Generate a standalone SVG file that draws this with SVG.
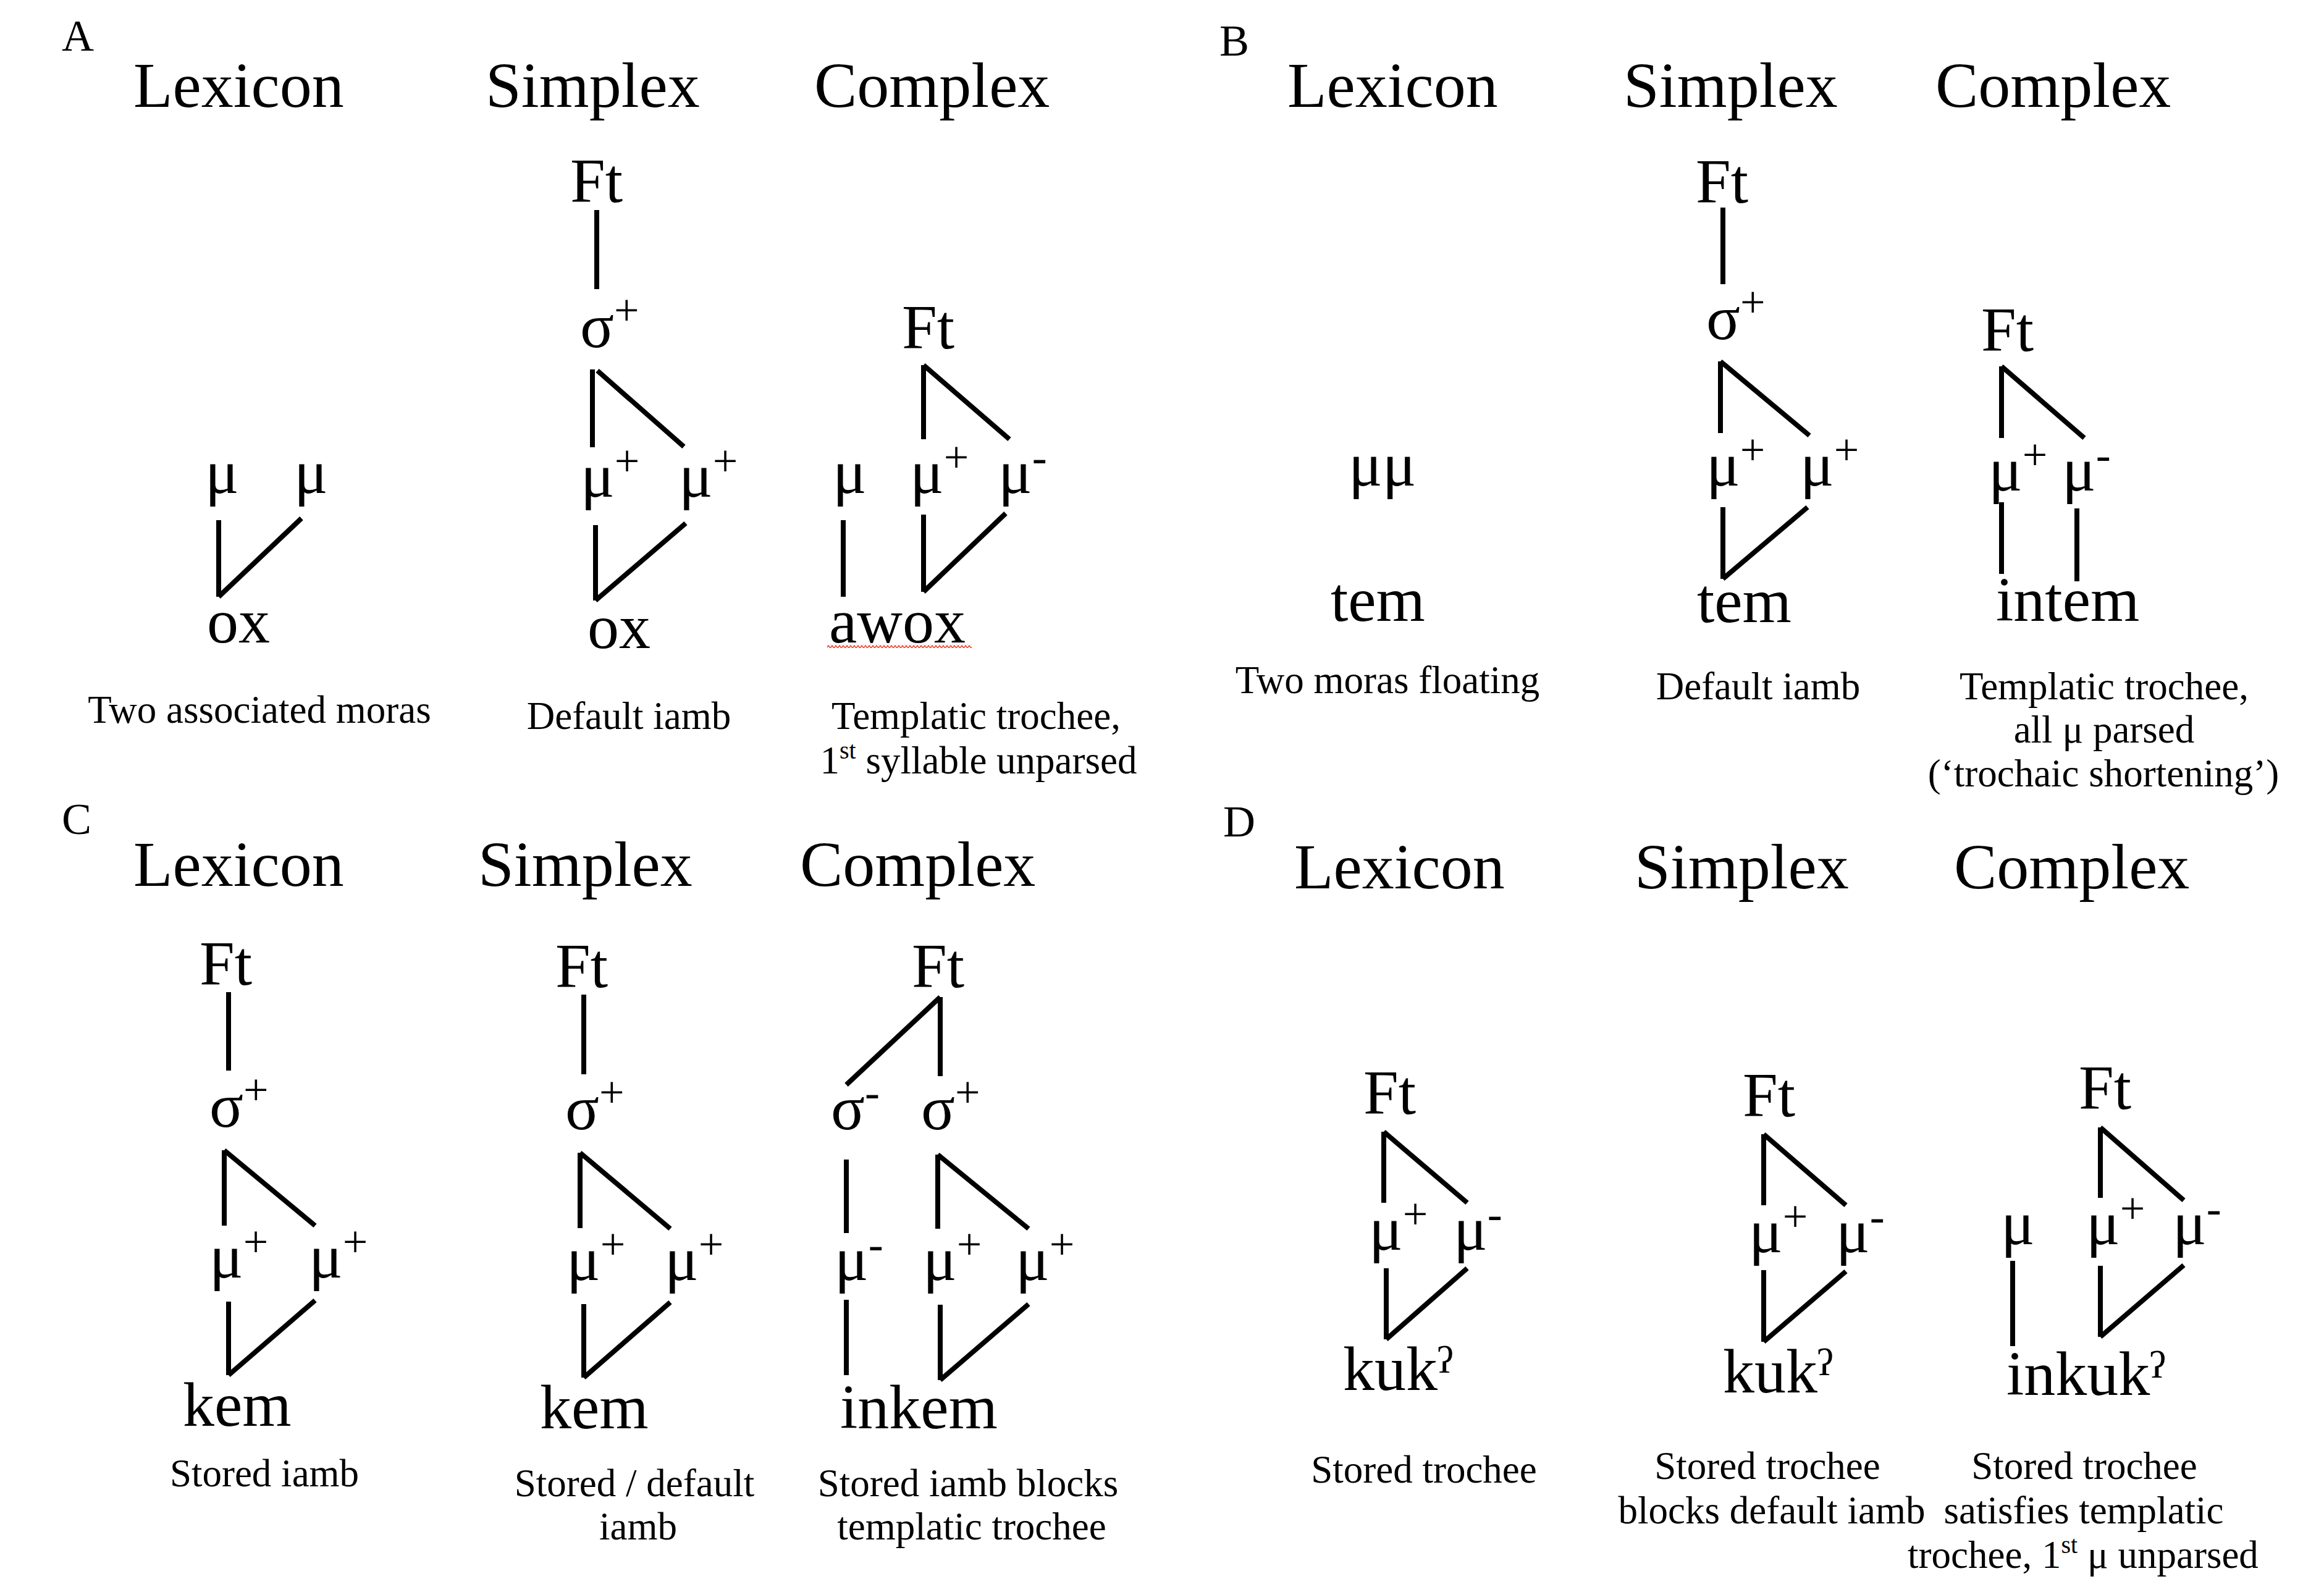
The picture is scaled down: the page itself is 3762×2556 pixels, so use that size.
<svg xmlns="http://www.w3.org/2000/svg" width="3762" height="2556" viewBox="0 0 3762 2556">
<style>
text{font-family:"Liberation Serif","DejaVu Serif",serif;fill:#000}
.pl{font-size:72px}
.hd{font-size:104px}
.nd{font-size:102px}
.sp{font-size:72px}
.cap{font-size:63px;text-anchor:middle}
.cs{font-size:40px}
#connectors line{stroke:#000;stroke-width:8;stroke-linecap:butt}
</style>
<defs>
<pattern id="squig" x="0" y="0" width="6" height="6" patternUnits="userSpaceOnUse">
<polyline points="0,5 3,1 6,5" fill="none" stroke="#f04030" stroke-width="1.6"/>
</pattern>
</defs>
<rect width="3762" height="2556" fill="#fff"/>

<!-- Panel labels and headings -->
<g id="headings">
<text class="pl" x="100" y="82">A</text>
<text class="hd" x="216" y="173">Lexicon</text>
<text class="hd" x="786" y="173">Simplex</text>
<text class="hd" x="1318" y="173">Complex</text>

<text class="pl" x="1974" y="90">B</text>
<text class="hd" x="2084" y="173">Lexicon</text>
<text class="hd" x="2628" y="173">Simplex</text>
<text class="hd" x="3133" y="173">Complex</text>

<text class="pl" x="100" y="1350">C</text>
<text class="hd" x="216" y="1434">Lexicon</text>
<text class="hd" x="774" y="1434">Simplex</text>
<text class="hd" x="1295" y="1434">Complex</text>

<text class="pl" x="1980" y="1354">D</text>
<text class="hd" x="2095" y="1438">Lexicon</text>
<text class="hd" x="2646" y="1438">Simplex</text>
<text class="hd" x="3163" y="1438">Complex</text>
</g>

<!-- Panel A nodes -->
<g id="A-lex-mu1"><text class="nd" x="332" y="798">μ</text></g>
<g id="A-lex-mu2"><text class="nd" x="476" y="798">μ</text></g>
<g id="A-lex-word"><text class="nd" x="335" y="1040">ox</text></g>

<g id="A-sim-ft"><text class="nd" x="923" y="327">Ft</text></g>
<g id="A-sim-sigma"><text class="nd" x="939" y="562">σ<tspan class="sp" dy="-36">+</tspan></text></g>
<g id="A-sim-mu1"><text class="nd" x="940" y="804">μ<tspan class="sp" dy="-34">+</tspan></text></g>
<g id="A-sim-mu2"><text class="nd" x="1099" y="804">μ<tspan class="sp" dy="-34">+</tspan></text></g>
<g id="A-sim-word"><text class="nd" x="951" y="1049">ox</text></g>

<g id="A-com-ft"><text class="nd" x="1460" y="564">Ft</text></g>
<g id="A-com-mu0"><text class="nd" x="1348" y="798">μ</text></g>
<g id="A-com-mu1"><text class="nd" x="1473" y="798">μ<tspan class="sp" dy="-34">+</tspan></text></g>
<g id="A-com-mu2"><text class="nd" x="1616" y="798">μ<tspan class="sp" dy="-34">-</tspan></text></g>
<g id="A-com-word"><text class="nd" x="1342" y="1040">awox</text>
<rect x="1339" y="1043" width="234" height="6" fill="url(#squig)"/></g>

<g id="A-captions">
<text class="cap" x="420" y="1170">Two associated moras</text>
<text class="cap" x="1018" y="1180">Default iamb</text>
<text class="cap" x="1580" y="1180">Templatic trochee,</text>
<text class="cap" x="1584" y="1252">1<tspan class="cs" dy="-24">st</tspan><tspan dy="24"> syllable unparsed</tspan></text>
</g>

<!-- Panel B nodes -->
<g id="B-lex-mu"><text class="nd" x="2183" y="786">μμ</text></g>
<g id="B-lex-word"><text class="nd" x="2154" y="1005">tem</text></g>

<g id="B-sim-ft"><text class="nd" x="2745" y="328">Ft</text></g>
<g id="B-sim-sigma"><text class="nd" x="2762" y="549">σ<tspan class="sp" dy="-36">+</tspan></text></g>
<g id="B-sim-mu1"><text class="nd" x="2762" y="786">μ<tspan class="sp" dy="-34">+</tspan></text></g>
<g id="B-sim-mu2"><text class="nd" x="2914" y="786">μ<tspan class="sp" dy="-34">+</tspan></text></g>
<g id="B-sim-word"><text class="nd" x="2747" y="1007">tem</text></g>

<g id="B-com-ft"><text class="nd" x="3207" y="568">Ft</text></g>
<g id="B-com-mu1"><text class="nd" x="3219" y="794">μ<tspan class="sp" dy="-34">+</tspan></text></g>
<g id="B-com-mu2"><text class="nd" x="3338" y="794">μ<tspan class="sp" dy="-34">-</tspan></text></g>
<g id="B-com-word"><text class="nd" x="3231" y="1005">intem</text></g>

<g id="B-captions">
<text class="cap" x="2246" y="1122">Two moras floating</text>
<text class="cap" x="2846" y="1132">Default iamb</text>
<text class="cap" x="3406" y="1132">Templatic trochee,</text>
<text class="cap" x="3406" y="1202">all μ parsed</text>
<text class="cap" x="3405" y="1273">(‘trochaic shortening’)</text>
</g>

<!-- Panel C nodes -->
<g id="C-lex-ft"><text class="nd" x="323" y="1594">Ft</text></g>
<g id="C-lex-sigma"><text class="nd" x="339" y="1824">σ<tspan class="sp" dy="-36">+</tspan></text></g>
<g id="C-lex-mu1"><text class="nd" x="339" y="2068">μ<tspan class="sp" dy="-34">+</tspan></text></g>
<g id="C-lex-mu2"><text class="nd" x="500" y="2068">μ<tspan class="sp" dy="-34">+</tspan></text></g>
<g id="C-lex-word"><text class="nd" x="296" y="2308">kem</text></g>

<g id="C-sim-ft"><text class="nd" x="899" y="1598">Ft</text></g>
<g id="C-sim-sigma"><text class="nd" x="915" y="1828">σ<tspan class="sp" dy="-36">+</tspan></text></g>
<g id="C-sim-mu1"><text class="nd" x="917" y="2072">μ<tspan class="sp" dy="-34">+</tspan></text></g>
<g id="C-sim-mu2"><text class="nd" x="1076" y="2072">μ<tspan class="sp" dy="-34">+</tspan></text></g>
<g id="C-sim-word"><text class="nd" x="874" y="2312">kem</text></g>

<g id="C-com-ft"><text class="nd" x="1476" y="1598">Ft</text></g>
<g id="C-com-sigma1"><text class="nd" x="1345" y="1828">σ<tspan class="sp" dy="-36">-</tspan></text></g>
<g id="C-com-sigma2"><text class="nd" x="1491" y="1828">σ<tspan class="sp" dy="-36">+</tspan></text></g>
<g id="C-com-mu0"><text class="nd" x="1351" y="2072">μ<tspan class="sp" dy="-34">-</tspan></text></g>
<g id="C-com-mu1"><text class="nd" x="1494" y="2072">μ<tspan class="sp" dy="-34">+</tspan></text></g>
<g id="C-com-mu2"><text class="nd" x="1644" y="2072">μ<tspan class="sp" dy="-34">+</tspan></text></g>
<g id="C-com-word"><text class="nd" x="1360" y="2312">inkem</text></g>

<g id="C-captions">
<text class="cap" x="428" y="2406">Stored iamb</text>
<text class="cap" x="1027" y="2422">Stored / default</text>
<text class="cap" x="1033" y="2492">iamb</text>
<text class="cap" x="1567" y="2422">Stored iamb blocks</text>
<text class="cap" x="1573" y="2492">templatic trochee</text>
</g>

<!-- Panel D nodes -->
<g id="D-lex-ft"><text class="nd" x="2207" y="1803">Ft</text></g>
<g id="D-lex-mu1"><text class="nd" x="2216" y="2023">μ<tspan class="sp" dy="-34">+</tspan></text></g>
<g id="D-lex-mu2"><text class="nd" x="2353" y="2023">μ<tspan class="sp" dy="-34">-</tspan></text></g>
<g id="D-lex-word"><text class="nd" x="2174" y="2250">kukˀ</text></g>

<g id="D-sim-ft"><text class="nd" x="2821" y="1807">Ft</text></g>
<g id="D-sim-mu1"><text class="nd" x="2831" y="2027">μ<tspan class="sp" dy="-34">+</tspan></text></g>
<g id="D-sim-mu2"><text class="nd" x="2972" y="2027">μ<tspan class="sp" dy="-34">-</tspan></text></g>
<g id="D-sim-word"><text class="nd" x="2789" y="2254">kukˀ</text></g>

<g id="D-com-ft"><text class="nd" x="3365" y="1795">Ft</text></g>
<g id="D-com-mu0"><text class="nd" x="3239" y="2014">μ</text></g>
<g id="D-com-mu1"><text class="nd" x="3377" y="2014">μ<tspan class="sp" dy="-34">+</tspan></text></g>
<g id="D-com-mu2"><text class="nd" x="3517" y="2014">μ<tspan class="sp" dy="-34">-</tspan></text></g>
<g id="D-com-word"><text class="nd" x="3248" y="2258">inkukˀ</text></g>

<g id="D-captions">
<text class="cap" x="2305" y="2400">Stored trochee</text>
<text class="cap" x="2861" y="2394">Stored trochee</text>
<text class="cap" x="2868" y="2466">blocks default iamb</text>
<text class="cap" x="3374" y="2394">Stored trochee</text>
<text class="cap" x="3373" y="2466">satisfies templatic</text>
<text class="cap" x="3372" y="2538">trochee, 1<tspan class="cs" dy="-24">st</tspan><tspan dy="24"> μ unparsed</tspan></text>
</g>

<!-- Connectors -->
<g id="connectors">
<!-- A lexicon -->
<line x1="354" y1="842" x2="354" y2="966"/>
<line x1="354" y1="966" x2="488" y2="839"/>
<!-- A simplex -->
<line x1="966" y1="340" x2="966" y2="468"/>
<line x1="959" y1="598" x2="959" y2="724"/>
<line x1="967" y1="600" x2="1107" y2="723"/>
<line x1="964" y1="850" x2="964" y2="972"/>
<line x1="964" y1="972" x2="1110" y2="847"/>
<!-- A complex -->
<line x1="1495" y1="591" x2="1495" y2="711"/>
<line x1="1495" y1="591" x2="1634" y2="711"/>
<line x1="1365" y1="842" x2="1365" y2="966"/>
<line x1="1495" y1="833" x2="1495" y2="958"/>
<line x1="1495" y1="958" x2="1628" y2="831"/>
<!-- B simplex -->
<line x1="2789" y1="336" x2="2789" y2="460"/>
<line x1="2785" y1="585" x2="2785" y2="701"/>
<line x1="2785" y1="585" x2="2929" y2="705"/>
<line x1="2789" y1="821" x2="2789" y2="937"/>
<line x1="2789" y1="937" x2="2926" y2="821"/>
<!-- B complex -->
<line x1="3240" y1="593" x2="3240" y2="709"/>
<line x1="3240" y1="593" x2="3374" y2="709"/>
<line x1="3240" y1="813" x2="3240" y2="929"/>
<line x1="3362" y1="823" x2="3362" y2="941"/>
<!-- C lexicon -->
<line x1="370" y1="1606" x2="370" y2="1733"/>
<line x1="363" y1="1862" x2="363" y2="1984"/>
<line x1="363" y1="1862" x2="510" y2="1984"/>
<line x1="370" y1="2107" x2="370" y2="2226"/>
<line x1="370" y1="2226" x2="510" y2="2105"/>
<!-- C simplex -->
<line x1="945" y1="1610" x2="945" y2="1739"/>
<line x1="939" y1="1866" x2="939" y2="1988"/>
<line x1="939" y1="1866" x2="1085" y2="1989"/>
<line x1="945" y1="2111" x2="945" y2="2230"/>
<line x1="945" y1="2230" x2="1085" y2="2108"/>
<!-- C complex -->
<line x1="1522" y1="1614" x2="1370" y2="1756"/>
<line x1="1522" y1="1614" x2="1522" y2="1742"/>
<line x1="1370" y1="1877" x2="1370" y2="1996"/>
<line x1="1518" y1="1869" x2="1518" y2="1989"/>
<line x1="1518" y1="1869" x2="1665" y2="1989"/>
<line x1="1370" y1="2104" x2="1370" y2="2226"/>
<line x1="1522" y1="2112" x2="1522" y2="2234"/>
<line x1="1522" y1="2234" x2="1665" y2="2111"/>
<!-- D lexicon -->
<line x1="2240" y1="1832" x2="2240" y2="1947"/>
<line x1="2240" y1="1832" x2="2375" y2="1947"/>
<line x1="2244" y1="2053" x2="2244" y2="2168"/>
<line x1="2244" y1="2168" x2="2375" y2="2053"/>
<!-- D simplex -->
<line x1="2855" y1="1836" x2="2855" y2="1951"/>
<line x1="2855" y1="1836" x2="2988" y2="1951"/>
<line x1="2855" y1="2056" x2="2855" y2="2172"/>
<line x1="2855" y1="2172" x2="2988" y2="2058"/>
<!-- D complex -->
<line x1="3400" y1="1825" x2="3400" y2="1939"/>
<line x1="3400" y1="1825" x2="3535" y2="1943"/>
<line x1="3258" y1="2041" x2="3258" y2="2179"/>
<line x1="3400" y1="2049" x2="3400" y2="2164"/>
<line x1="3400" y1="2164" x2="3535" y2="2048"/>
</g>
</svg>
